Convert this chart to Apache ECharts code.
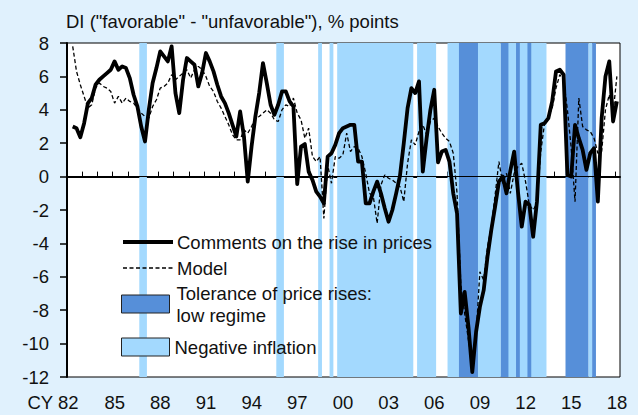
<!DOCTYPE html>
<html><head><meta charset="utf-8">
<script src="https://cdn.jsdelivr.net/npm/echarts@6/dist/echarts.min.js"></script>
<style>html,body{margin:0;padding:0;background:#e0f1fd;}#c{width:638px;height:415px;}</style>
</head><body><div id="c"></div>
<script>
// Quarterly observations, first one = 1982 Q2 (plotted mid-quarter)
const firstYear = 1982, firstQuarter = 2;
const comments = [
 3.0, 2.9, 2.35, 3.2, 4.4, 4.7, 5.5, 5.8, 6.0, 6.2,
 6.4, 6.9, 6.4, 6.6, 6.5, 5.9, 4.9, 4.2, 3.0, 2.1,
 4.0, 5.6, 6.5, 7.5, 7.2, 6.9, 7.8, 5.0, 3.8, 5.8,
 7.1, 6.9, 6.7, 5.4, 6.2, 7.4, 6.9, 6.3, 5.5, 4.8,
 4.4, 3.8, 3.1, 2.4, 3.9, 2.4, -0.3, 1.8, 3.6, 5.0,
 6.8, 5.6, 4.3, 3.7, 4.3, 5.1, 5.1, 4.5, 4.2, -0.45,
 1.8, 1.95, 0.3, -0.2, -0.9, -1.2, -1.6, 1.2, 1.4, 1.9,
 2.6, 2.9, 3.0, 3.1, 3.1, 0.9, 0.9, -1.6, -1.6, -0.9,
 -0.3, -1.0, -1.9, -2.7, -2.0, -1.0, 0.05, 2.0, 4.1, 5.3,
 5.0, 5.7, 0.3, 2.3, 4.0, 5.2, 0.85, 1.5, 1.6, 0.9,
 -1.0, -2.2, -8.2, -6.9, -9.0, -11.7, -9.3, -7.8, -6.8, -4.8,
 -3.2, -1.8, -0.3, 0.0, -1.0, 0.35, 1.5, -0.9, -3.0, -1.5,
 -1.7, -3.6, -1.5, 3.1, 3.2, 3.5, 4.5, 6.3, 6.4, 6.1,
 0.1, 0.0, 3.1, 2.3, 1.6, 0.4, 1.4, 1.7, -1.5, 3.5,
 6.0, 6.9, 3.3, 4.5
];
const model = [
 7.8, 6.3, 5.5, 4.8, 4.1, 4.3, 5.3, 5.6, 5.4, 5.3,
 5.1, 4.4, 4.8, 4.4, 4.7, 4.5, 4.4, 4.1, 3.8, 3.6,
 3.5, 4.2, 4.6, 5.3, 5.4, 5.6, 6.1, 5.8, 6.0, 6.2,
 6.4, 5.9, 6.4, 6.6, 6.4, 6.0, 5.4, 5.1, 4.5, 4.1,
 3.6, 3.1, 2.5, 2.2, 2.2, 2.8, 2.6, 3.0, 3.5, 3.6,
 3.8, 4.0, 3.8, 3.4, 3.3, 4.0, 4.3, 4.2, 4.7, 3.8,
 3.4, 2.3, 2.9, 1.2, 0.9, 1.2, -2.5, 0.7, -0.4, 1.2,
 1.1, 1.3, 2.6, 1.5, 1.8, 1.7, 1.2, 0.2, -1.0, -1.2,
 -2.8, -0.5, 0.1, -0.1, -0.2, -0.4, -0.6, -1.5, 0.8, 2.2,
 1.9, 2.7, 3.1, 2.5, 3.3, 3.5, 3.0, 2.6, 2.3, 2.1,
 1.4, -1.0, -6.5, -8.2, -9.8, -11.2, -9.5, -5.7, -6.2, -4.2,
 -3.0, -1.1, 0.9, -0.4, 0.2, -1.0, 0.2, 0.6, 0.8, -0.3,
 -1.7, -2.0, -1.6, 1.5, 3.2, 3.6, 4.1, 5.3, 6.1, 5.8,
 4.0, 1.7, -1.5, 4.7, 3.0, 2.8, 2.7, 2.3, 1.4, 1.5,
 4.0, 4.9, 3.8, 6.0
];
// shaded periods [start, end] in years
const negInflation = [
 [1986.75, 1987.25], [1995.75, 1996.25], [1998.5, 1998.75], [1999.25, 1999.5],
 [1999.75, 2004.75], [2005.0, 2006.25], [2007.0, 2010.5], [2010.75, 2013.5],
 [2016.25, 2016.5]
];
const lowRegime = [
 [2007.75, 2009.0], [2010.5, 2011.0], [2011.5, 2011.75], [2012.25, 2012.5],
 [2014.75, 2016.25], [2016.5, 2016.75]
];
const xMin = 1982, xMax = 2018.33, labelEvery = 3;
const yMin = -12, yMax = 8, yStep = 2;
const titleText = 'DI ("favorable" - "unfavorable"), % points';
const nameComments = 'Comments on the rise in prices';
const nameModel = 'Model';
const nameLow = 'Tolerance of price rises:\nlow regime';
const nameNeg = 'Negative inflation';

const COL_BG = '#e0f1fd', COL_NEG = '#a3d9fe', COL_LOW = '#568fd9';
const FONT = 'Liberation Sans, Arial, sans-serif';
const FS = 18.5;

function tOf(i) { return firstYear + (firstQuarter - 1 + i) * 0.25 + 0.125; }
const commentsData = comments.map((v, i) => [tOf(i), v]);
const modelData = model.map((v, i) => [tOf(i), v]);

function bandRender(color) {
  return function (params, api) {
    const cs = params.coordSys;
    const a = api.coord([api.value(0), 0])[0];
    const b = api.coord([api.value(1), 0])[0];
    return { type: 'rect', shape: { x: a, y: cs.y, width: b - a, height: cs.height },
             style: { fill: color } };
  };
}

const chart = echarts.init(document.getElementById('c'), null, { renderer: 'svg' });
chart.setOption({
  backgroundColor: COL_BG,
  animation: false,
  textStyle: { fontFamily: FONT },
  title: { text: titleText, left: 66, top: 11, padding: 0,
    textStyle: { fontSize: FS, fontWeight: 'normal', color: '#111', fontFamily: FONT, lineHeight: 20 } },
  grid: { left: 67, right: 18, top: 43, bottom: 38, show: true, backgroundColor: '#fff',
          borderColor: '#000', borderWidth: 1, outerBoundsMode: 'none' },
  legend: [
    { data: [
        { name: nameComments, lineStyle: { width: 4, color: '#000' } },
        { name: nameModel, lineStyle: { width: 1.3, color: '#000', type: [4, 2.5] } }
      ],
      orient: 'vertical', left: 121, top: 232, padding: 0,
      itemWidth: 50, itemHeight: 14, itemGap: 6, selectedMode: false,
      itemStyle: { opacity: 0 },
      textStyle: { fontSize: FS, color: '#111', fontFamily: FONT, lineHeight: 20, padding: [0, 0, 0, -1] } },
    { data: [{ name: nameLow, icon: 'rect', itemStyle: { color: COL_LOW, borderColor: '#222', borderWidth: 1 } }],
      left: 121, top: 274, padding: 0, itemWidth: 48, itemHeight: 18, selectedMode: false,
      textStyle: { fontSize: FS, color: '#111', fontFamily: FONT, lineHeight: 22, padding: [16, 0, 0, 2] } },
    { data: [{ name: nameNeg, icon: 'rect', itemStyle: { color: COL_NEG, borderColor: '#222', borderWidth: 1 } }],
      left: 121, top: 337, padding: 0, itemWidth: 48, itemHeight: 18, selectedMode: false,
      textStyle: { fontSize: FS, color: '#111', fontFamily: FONT, lineHeight: 20 } }
  ],
  xAxis: {
    type: 'value', min: xMin, max: xMax, interval: 1,
    axisLine: { lineStyle: { color: '#000', width: 2 } },
    axisTick: { inside: true, length: 5, lineStyle: { color: '#000', width: 1 } },
    splitLine: { show: false },
    axisLabel: {
      margin: 16, fontSize: FS, color: '#111', fontFamily: FONT, showMaxLabel: false,
      formatter: function (v) {
        const y = Math.round(v);
        if (Math.abs(v - y) > 1e-6 || (y - xMin) % labelEvery !== 0) return '';
        const s = String(y % 100).padStart(2, '0');
        return y === xMin ? '{cy|CY ' + s + '}' : '{n|' + s + '}';
      },
      rich: {
        cy: { fontSize: FS, color: '#111', fontFamily: FONT, padding: [0, 28, 0, 0] },
        n: { fontSize: FS, color: '#111', fontFamily: FONT, padding: [0, 0, 0, 4] }
      }
    }
  },
  yAxis: {
    type: 'value', min: yMin, max: yMax, interval: yStep,
    axisLine: { show: true, lineStyle: { color: '#000', width: 2 } },
    axisTick: { show: true, inside: false, length: 7, lineStyle: { color: '#000', width: 1.5 } },
    splitLine: { show: false },
    axisLabel: { margin: 18, fontSize: FS, color: '#111', fontFamily: FONT }
  },
  series: [
    { name: nameNeg, type: 'custom', data: negInflation, encode: { x: [0, 1] },
      renderItem: bandRender(COL_NEG), itemStyle: { color: COL_NEG }, z: 1, silent: true, clip: true },
    { name: nameLow, type: 'custom', data: lowRegime, encode: { x: [0, 1] },
      renderItem: bandRender(COL_LOW), itemStyle: { color: COL_LOW }, z: 2, silent: true, clip: true },
    { name: nameModel, type: 'line', data: modelData, showSymbol: false, symbol: 'none',
      color: '#000', lineStyle: { color: '#000', width: 1.3, type: [4, 2.5] }, z: 4, silent: true },
    { name: nameComments, type: 'line', data: commentsData, showSymbol: false, symbol: 'none',
      color: '#000', lineStyle: { color: '#000', width: 3.8, join: 'round' }, z: 5, silent: true,
      markLine: { silent: true, symbol: 'none', label: { show: false },
        lineStyle: { color: '#000', width: 1, type: 'solid' }, data: [{ yAxis: 0 }] } }
  ]
});
</script></body></html>
